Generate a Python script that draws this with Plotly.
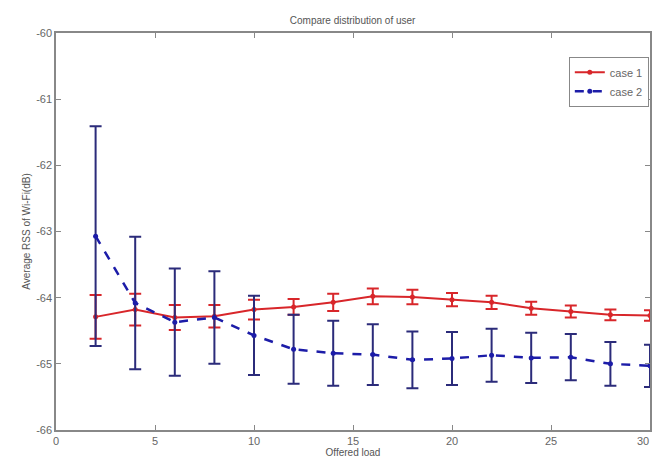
import plotly.graph_objects as go

load = [2, 4, 6, 8, 10, 12, 14, 16, 18, 20, 22, 24, 26, 28, 30]
case1 = [-64.29, -64.18, -64.30, -64.28, -64.18, -64.14, -64.07, -63.98, -63.99, -64.03, -64.07, -64.16, -64.21, -64.26, -64.27]
case1_err = [0.33, 0.24, 0.19, 0.17, 0.15, 0.12, 0.13, 0.12, 0.11, 0.10, 0.10, 0.10, 0.09, 0.08, 0.08]
case2 = [-63.07, -64.08, -64.37, -64.30, -64.57, -64.78, -64.84, -64.86, -64.94, -64.92, -64.87, -64.91, -64.90, -65.00, -65.03]
case2_err = [1.66, 1.00, 0.81, 0.70, 0.60, 0.52, 0.49, 0.46, 0.43, 0.40, 0.40, 0.38, 0.35, 0.33, 0.32]
x_ticks = [0, 5, 10, 15, 20, 25]
y_ticks = [-66, -65, -64, -63, -62, -61, -60]
y_labels = ["-66", "-65", "-64", "-63", "-62", "-61", "-60"]

red = "#d8262a"
blue = "#1c1ca8"
navy = "#2b2b7a"
font = "Arial, Liberation Sans, sans-serif"

fig = go.Figure()
fig.add_trace(go.Scatter(
    x=load, y=case1, name="case 1", mode="lines+markers",
    line=dict(color=red, width=2),
    marker=dict(symbol="circle", size=5, color=red),
    error_y=dict(type="data", array=case1_err, color=red, thickness=2, width=6),
))
fig.add_trace(go.Scatter(
    x=load, y=case2, name="case 2", mode="lines+markers",
    line=dict(color=blue, width=2.5, dash="dash"),
    marker=dict(symbol="circle", size=5, color=blue),
    error_y=dict(type="data", array=case2_err, color=navy, thickness=2, width=6),
))

axis_common = dict(
    showgrid=False, zeroline=False, showline=True, linecolor="#888888", linewidth=1.5,
    mirror="ticks", ticks="inside", ticklen=5, tickcolor="#888888",
    tickfont=dict(family=font, size=11, color="#666666"),
)
fig.update_layout(
    width=653, height=463,
    margin=dict(l=56, r=1, t=33, b=33),
    paper_bgcolor="white", plot_bgcolor="white",
    title=dict(text="Compare distribution of user", x=0.54, xanchor="center", y=0.955, yanchor="middle",
               font=dict(family=font, size=10, color="#555555")),
    xaxis=dict(range=[0, 30], tickvals=x_ticks + [30], ticktext=[str(v) for v in x_ticks] + [""],
               title=dict(text="Offered load", standoff=2,
                          font=dict(family=font, size=10, color="#555555")),
               **axis_common),
    yaxis=dict(range=[-66, -60], tickvals=y_ticks, ticktext=y_labels,
               title=dict(text="Average RSS of Wi-Fi(dB)", standoff=4,
                          font=dict(family=font, size=10, color="#555555")),
               **axis_common),
    legend=dict(x=0.998, y=0.94, xanchor="right", yanchor="top",
                bordercolor="#888888", borderwidth=1, bgcolor="white",
                font=dict(family=font, size=11, color="#666666"),
                tracegroupgap=0, itemwidth=30),
    showlegend=True,
)
fig.add_annotation(x=30, y=0, xref="x", yref="paper", xanchor="right", yanchor="top", yshift=-3, xshift=1,
                   text="30", showarrow=False, font=dict(family=font, size=11, color="#666666"))
fig.write_html("out.html")
